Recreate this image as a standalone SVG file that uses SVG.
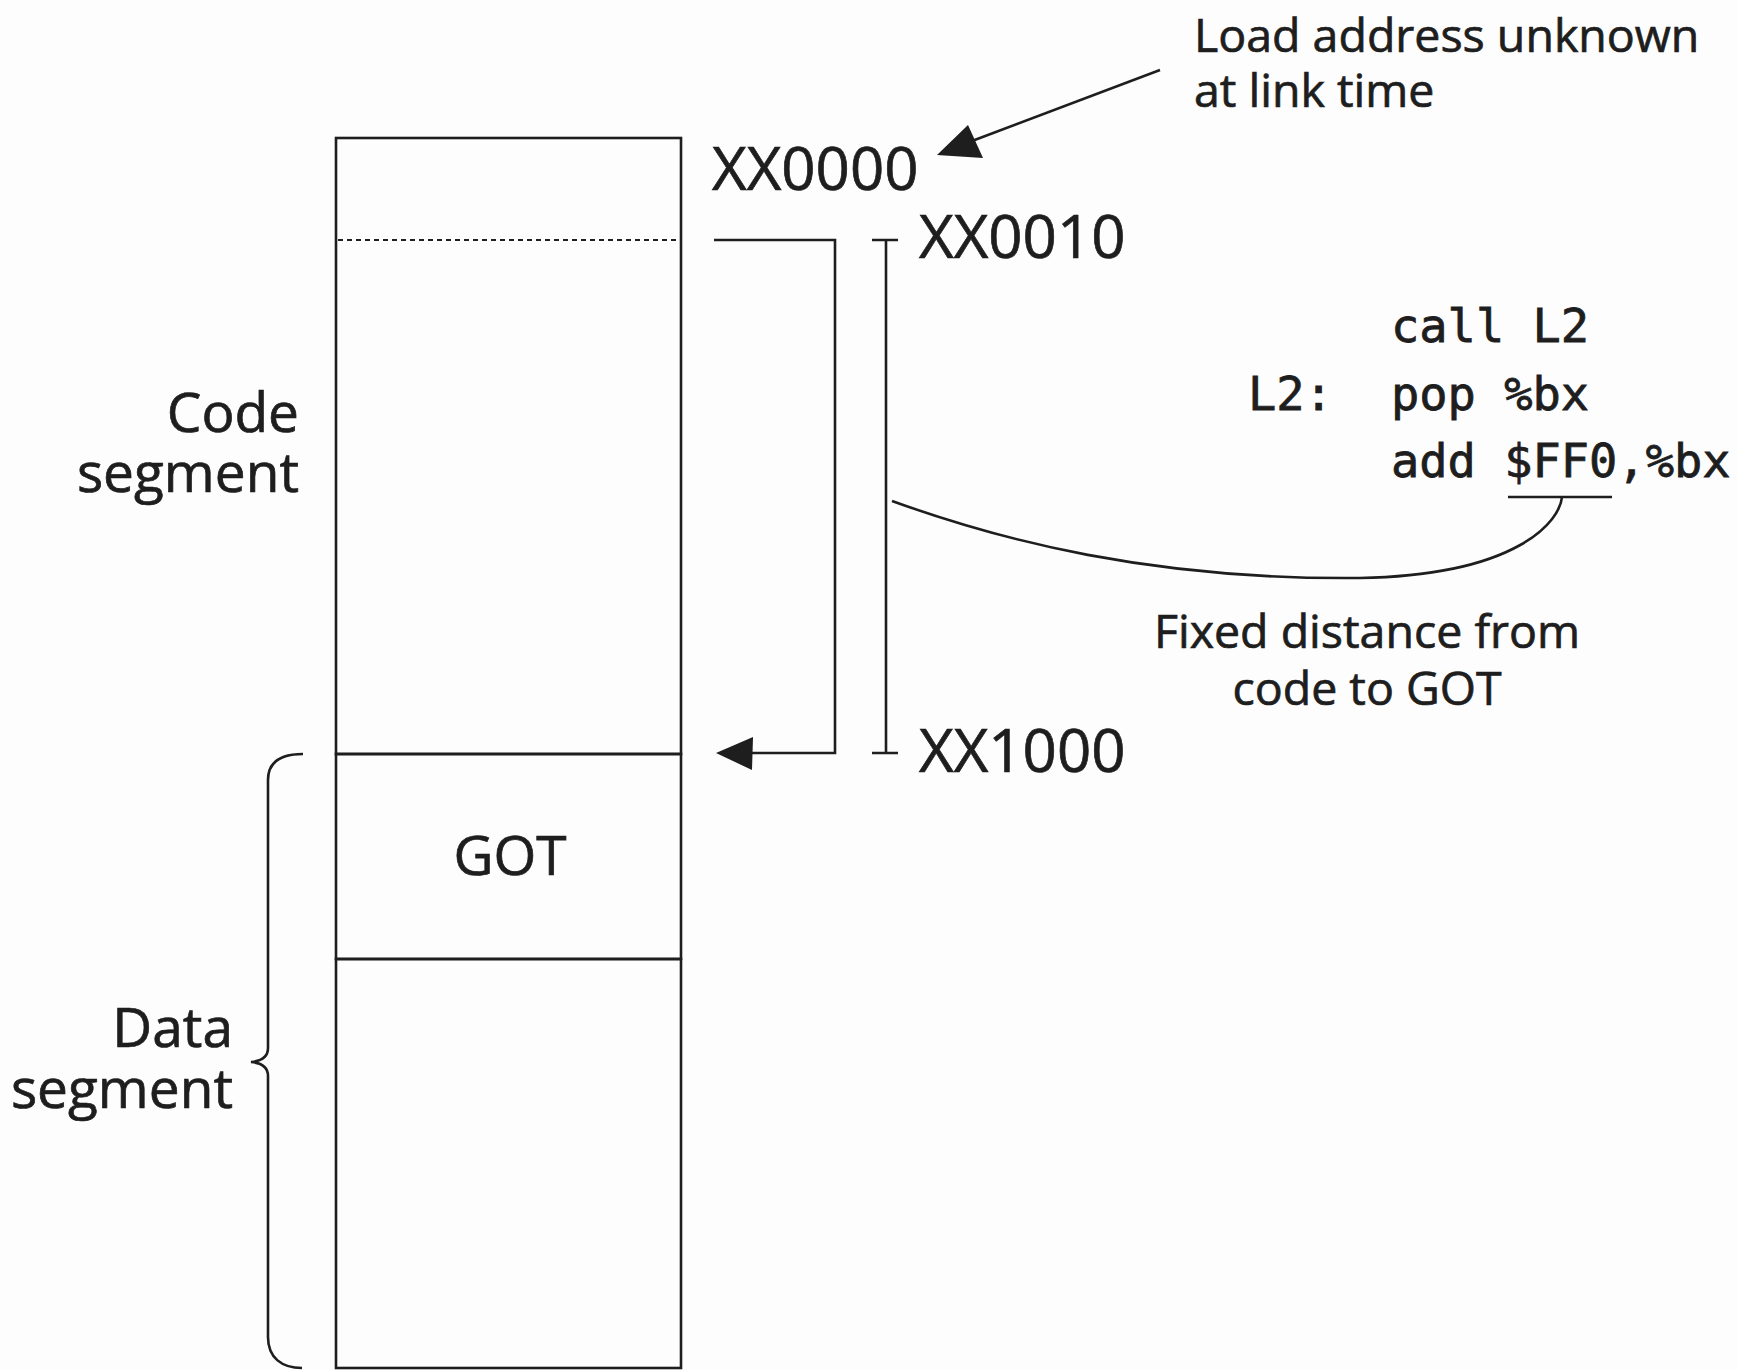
<svg xmlns="http://www.w3.org/2000/svg" width="1737" height="1370" viewBox="0 0 1737 1370">
<defs>
<style>
.t{font-family:"Open Sans","Noto Sans","Liberation Sans",sans-serif;fill:#1e1e1e;stroke:#1e1e1e;stroke-width:0.7}
.lbl{font-size:55px}
.addr{font-size:60px}
.note{font-size:46.5px}
.m{font-family:"DejaVu Sans Mono","Liberation Mono",monospace;font-size:47px;fill:#1e1e1e;stroke:#1e1e1e;stroke-width:0.8}
.ln{fill:none;stroke:#1e1e1e;stroke-width:2.6}
.head{fill:#1e1e1e}
</style>
</defs>
<rect width="1737" height="1370" fill="#fdfdfd"/>
<g id="code-segment">
<rect x="336" y="138" width="345" height="616" class="ln"/>
<line x1="338" y1="240" x2="678" y2="240" stroke="#1e1e1e" stroke-width="2" stroke-dasharray="5,4"/>
</g>
<g id="got">
<rect x="336" y="754" width="345" height="205" class="ln"/>
<text class="t lbl" x="510" y="875" text-anchor="middle">GOT</text>
</g>
<g id="data-rest">
<rect x="336" y="959" width="345" height="409" class="ln"/>
</g>
<g id="labels">
<text class="t lbl" x="299" y="432" text-anchor="end">Code</text>
<text class="t lbl" x="299" y="492" text-anchor="end">segment</text>
<text class="t lbl" x="233" y="1047" text-anchor="end">Data</text>
<text class="t lbl" x="233" y="1108" text-anchor="end">segment</text>
<text class="t addr" x="712" y="190">XX0000</text>
<text class="t addr" x="919" y="258">XX0010</text>
<text class="t addr" x="919" y="772">XX1000</text>
<text class="t note" x="1194" y="52">Load address unknown</text>
<text class="t note" x="1194" y="107">at link time</text>
<text class="t note" x="1367" y="648" text-anchor="middle">Fixed distance from</text>
<text class="t note" x="1367" y="705" text-anchor="middle">code to GOT</text>
</g>
<g id="code">
<text class="m" x="1391" y="342">call L2</text>
<text class="m" x="1248" y="410">L2:</text>
<text class="m" x="1391" y="410">pop %bx</text>
<text class="m" x="1391" y="477">add $FF0,%bx</text>
</g>
<g id="connectors">
<path class="ln" d="M1160,70 L972,141"/>
<path class="head" d="M937,155 L968,125 L983,158 z"/>
<path class="ln" d="M714,240 H835 V753 H750"/>
<path class="head" d="M716,753 L753,737 L752,770 z"/>
<path class="ln" d="M886,240 V753 M872,240 H898 M872,753 H898"/>
<path class="ln" d="M892,501 C1000,540 1150,580 1360,578 C1520,575 1560,520 1562,497"/>
<line x1="1508" y1="497" x2="1612" y2="497" class="ln"/>
<path class="ln" d="M303,754 C284,754 268,760 268,780 V1048 C268,1057 262,1061 251,1062 C262,1063 268,1067 268,1076 V1337 C268,1358 282,1368 302,1368"/>
</g>
</svg>
